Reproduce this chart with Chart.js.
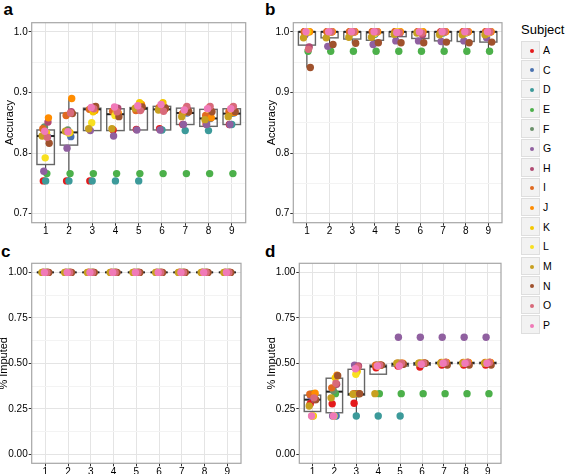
<!DOCTYPE html>
<html>
<head>
<meta charset="utf-8">
<script src="https://cdn.jsdelivr.net/npm/chart.js@4.4.1/dist/chart.umd.min.js"></script>
<style>
  body { margin: 0; background: #fff; width: 567px; height: 474px; position: relative; overflow: hidden;
         font-family: 'Liberation Sans', Arial, sans-serif; color: #000; }
  canvas { position: absolute; }
  .tag { position: absolute; font-weight: bold; font-size: 17px; line-height: 17px; }
  #legend-title { position: absolute; left: 521px; top: 23px; font-size: 13px; line-height: 13px; }
  .key { position: absolute; left: 521px; width: 19px; height: 18.6px; background: #f2f2f2; border: 1px solid #dedede; box-sizing: border-box; }
  .key span { position: absolute; left: 7.5px; top: 7.3px; width: 4px; height: 4px; border-radius: 50%; }
  .klabel { position: absolute; left: 543px; font-size: 10.5px; line-height: 10.5px; }
</style>
</head>
<body>
<div class="tag" style="left:3.5px;top:1px">a</div>
<div class="tag" style="left:265px;top:1px">b</div>
<div class="tag" style="left:1px;top:243px">c</div>
<div class="tag" style="left:265px;top:243px">d</div>
<div id="legend-title">Subject</div>
<div id="legend"></div>

<canvas id="chart-a" width="250" height="240" style="left:0;top:0"></canvas>
<canvas id="chart-b" width="254" height="240" style="left:250px;top:0"></canvas>
<canvas id="chart-c" width="248" height="234" style="left:-4px;top:240px"></canvas>
<canvas id="chart-d" width="254" height="234" style="left:250px;top:240px"></canvas>

<script>
const groups = [1, 2, 3, 4, 5, 6, 7, 8, 9];
const subjects = ['A', 'C', 'D', 'E', 'F', 'G', 'H', 'I', 'J', 'K', 'L', 'M', 'N', 'O', 'P'];
const colors = ['#e41a1c', '#4a72b0', '#3c9a9a', '#4cb04a', '#6a8f6a', '#9060a0', '#b04a72', '#e06a20',
                '#ff8c00', '#f5c800', '#f8e020', '#c8a020', '#a0522d', '#d86a7a', '#f07ab8'];
// horizontal jitter of each subject's point, in category units
const jitter = [-0.1, 0.08, 0.0, 0.05, -0.05, -0.08, 0.1, -0.12, 0.12, 0.04, -0.02, -0.15, 0.15, 0.07, -0.04];

// panel a: accuracy, one row per subject, one value per group
const accuracyA = [
  [0.754, 0.754, 0.754, 0.838, 0.839, 0.840, 0.847, 0.848, 0.847],
  [0.827, 0.827, 0.870, 0.872, 0.874, 0.876, 0.866, 0.857, 0.866],
  [0.754, 0.754, 0.754, 0.754, 0.754, 0.838, 0.837, 0.837, 0.847],
  [0.766, 0.766, 0.766, 0.766, 0.766, 0.766, 0.766, 0.766, 0.766],
  [0.843, 0.838, 0.872, 0.870, 0.873, 0.872, 0.868, 0.856, 0.865],
  [0.770, 0.808, 0.837, 0.828, 0.838, 0.838, 0.847, 0.847, 0.847],
  [0.851, 0.868, 0.876, 0.874, 0.872, 0.876, 0.872, 0.870, 0.870],
  [0.840, 0.862, 0.872, 0.869, 0.870, 0.875, 0.865, 0.862, 0.868],
  [0.858, 0.890, 0.870, 0.866, 0.880, 0.872, 0.868, 0.858, 0.867],
  [0.833, 0.834, 0.868, 0.868, 0.883, 0.883, 0.874, 0.875, 0.875],
  [0.792, 0.833, 0.850, 0.862, 0.876, 0.873, 0.870, 0.872, 0.872],
  [0.828, 0.836, 0.840, 0.840, 0.874, 0.871, 0.860, 0.855, 0.860],
  [0.816, 0.865, 0.877, 0.860, 0.876, 0.874, 0.868, 0.868, 0.868],
  [0.826, 0.866, 0.873, 0.868, 0.870, 0.869, 0.877, 0.877, 0.877],
  [0.836, 0.835, 0.875, 0.876, 0.878, 0.880, 0.871, 0.873, 0.873]
];
// panel b: accuracy
const accuracyB = [
  [1, 1, 1, 1, 1, 1, 1, 1, 1],
  [1, 1, 1, 1, 1, 1, 1, 1, 1],
  [1, 1, 1, 0.996, 1, 1, 0.998, 0.998, 0.998],
  [0.968, 0.968, 0.968, 0.968, 0.968, 0.968, 0.968, 0.968, 0.968],
  [1, 1, 0.998, 1, 1, 1, 1, 1, 1],
  [0.995, 0.976, 1, 0.979, 0.985, 0.985, 0.984, 0.985, 0.990],
  [0.975, 1, 1, 1, 0.998, 0.995, 1, 1, 1],
  [1, 1, 1, 1, 1, 1, 0.998, 1, 1],
  [1, 1, 1, 1, 1, 1, 1, 1, 1],
  [1, 1, 1, 1, 1, 1, 1, 1, 1],
  [1, 1, 1, 0.997, 1, 1, 1, 0.998, 0.998],
  [0.990, 0.990, 0.991, 0.991, 0.996, 0.998, 0.995, 0.995, 0.995],
  [0.941, 0.979, 0.981, 0.982, 0.982, 0.982, 0.983, 0.982, 0.983],
  [0.971, 1, 1, 1, 0.999, 0.998, 1, 1, 1],
  [1, 1, 1, 1, 0.999, 1, 1, 1, 1]
];
// panel c: % imputed
const imputedC = [
  [1, 1, 1, 1, 1, 1, 1, 1, 1], [1, 1, 1, 1, 1, 1, 1, 1, 1], [1, 1, 1, 1, 1, 1, 1, 1, 1],
  [1, 1, 1, 1, 1, 1, 1, 1, 1], [1, 1, 1, 1, 1, 1, 1, 1, 1], [1, 1, 1, 1, 1, 1, 1, 1, 1],
  [1, 1, 1, 1, 1, 1, 1, 1, 1], [1, 1, 1, 1, 1, 1, 1, 1, 1], [1, 1, 1, 1, 1, 1, 1, 1, 1],
  [1, 1, 1, 1, 1, 1, 1, 1, 1], [1, 1, 1, 1, 1, 1, 1, 1, 1], [1, 1, 1, 1, 1, 1, 1, 1, 1],
  [1, 1, 1, 1, 1, 1, 1, 1, 1], [1, 1, 1, 1, 1, 1, 1, 1, 1], [1, 1, 1, 1, 1, 1, 1, 1, 1]
];
// panel d: % imputed
const imputedD = [
  [0.278, 0.277, 0.280, 0.475, 0.485, 0.480, 0.490, 0.490, 0.490],
  [0.330, 0.210, 0.333, 0.490, 0.495, 0.500, 0.505, 0.505, 0.505],
  [0.210, 0.210, 0.210, 0.210, 0.210, 0.495, 0.500, 0.500, 0.500],
  [0.333, 0.333, 0.333, 0.333, 0.333, 0.333, 0.333, 0.333, 0.333],
  [0.330, 0.350, 0.333, 0.490, 0.500, 0.500, 0.500, 0.500, 0.500],
  [0.320, 0.210, 0.490, 0.490, 0.643, 0.643, 0.643, 0.643, 0.643],
  [0.300, 0.385, 0.485, 0.490, 0.495, 0.500, 0.505, 0.505, 0.505],
  [0.330, 0.365, 0.333, 0.490, 0.500, 0.500, 0.505, 0.505, 0.505],
  [0.335, 0.435, 0.333, 0.490, 0.500, 0.500, 0.505, 0.505, 0.505],
  [0.210, 0.420, 0.455, 0.490, 0.500, 0.500, 0.505, 0.505, 0.505],
  [0.210, 0.210, 0.440, 0.485, 0.490, 0.500, 0.505, 0.505, 0.505],
  [0.265, 0.310, 0.330, 0.333, 0.500, 0.500, 0.500, 0.500, 0.500],
  [0.300, 0.432, 0.333, 0.490, 0.495, 0.500, 0.490, 0.490, 0.490],
  [0.310, 0.390, 0.480, 0.490, 0.500, 0.500, 0.505, 0.505, 0.505],
  [0.210, 0.210, 0.470, 0.485, 0.485, 0.495, 0.500, 0.500, 0.500]
];

// box stats per group: [lower whisker, q1, median, q3, upper whisker]
const boxA = [
  [0.768, 0.781, 0.828, 0.838, 0.858], [0.754, 0.813, 0.834, 0.866, 0.890],
  [0.837, 0.837, 0.872, 0.874, 0.877], [0.828, 0.837, 0.864, 0.873, 0.876],
  [0.838, 0.838, 0.873, 0.875, 0.883], [0.838, 0.838, 0.872, 0.877, 0.883],
  [0.837, 0.847, 0.866, 0.874, 0.877], [0.837, 0.844, 0.857, 0.872, 0.877],
  [0.847, 0.847, 0.865, 0.873, 0.877]
];
const boxB = [
  [0.941, 0.978, 1, 1, 1], [0.976, 0.990, 1, 1, 1], [0.981, 0.988, 1, 1, 1],
  [0.979, 0.986, 0.999, 1, 1], [0.982, 0.992, 1, 1, 1], [0.982, 0.989, 1, 1, 1],
  [0.968, 0.985, 1, 1, 1], [0.968, 0.984, 1, 1, 1], [0.968, 0.983, 1, 1, 1]
];
const boxC = [
  [1, 1, 1, 1, 1], [1, 1, 1, 1, 1], [1, 1, 1, 1, 1], [1, 1, 1, 1, 1], [1, 1, 1, 1, 1],
  [1, 1, 1, 1, 1], [1, 1, 1, 1, 1], [1, 1, 1, 1, 1], [1, 1, 1, 1, 1]
];
const boxD = [
  [0.210, 0.235, 0.300, 0.325, 0.335], [0.210, 0.228, 0.344, 0.418, 0.435],
  [0.210, 0.325, 0.330, 0.467, 0.490], [0.440, 0.440, 0.482, 0.490, 0.490],
  [0.483, 0.485, 0.495, 0.500, 0.500], [0.490, 0.490, 0.498, 0.503, 0.503],
  [0.495, 0.498, 0.502, 0.505, 0.505], [0.495, 0.498, 0.502, 0.505, 0.505],
  [0.495, 0.498, 0.502, 0.505, 0.505]
];

const accTicks = [0.7, 0.75, 0.8, 0.85, 0.9, 0.95, 1.0];
const accLabels = [0.7, 0.8, 0.9, 1.0];
const impTicks = [0, 0.125, 0.25, 0.375, 0.5, 0.625, 0.75, 0.875, 1];
const impLabels = [0, 0.25, 0.5, 0.75, 1];

const FONT = "'Liberation Sans', Arial, sans-serif";

function boxPlugin(boxes) {
  return {
    id: 'boxes',
    beforeDatasetsDraw(chart) {
      const { ctx } = chart;
      const xs = chart.scales.x;
      const ys = chart.scales.y;
      ctx.save();
      boxes.forEach((b, i) => {
        const g = groups[i];
        const x = xs.getPixelForValue(g);
        const x0 = xs.getPixelForValue(g - 0.375);
        const x1 = xs.getPixelForValue(g + 0.375);
        const [lo, q1, med, q3, hi] = b.map((v) => ys.getPixelForValue(v));
        ctx.strokeStyle = '#333';
        ctx.lineWidth = 1;
        ctx.beginPath();
        ctx.moveTo(x, lo); ctx.lineTo(x, q1);
        ctx.moveTo(x, q3); ctx.lineTo(x, hi);
        ctx.stroke();
        ctx.strokeStyle = '#666';
        ctx.lineWidth = 1.4;
        ctx.strokeRect(x0, q3, x1 - x0, q1 - q3);
        ctx.strokeStyle = '#222';
        ctx.lineWidth = 2;
        ctx.beginPath();
        ctx.moveTo(x0, med); ctx.lineTo(x1, med);
        ctx.stroke();
      });
      ctx.restore();
    },
    afterDraw(chart) {
      const { ctx, chartArea: a } = chart;
      ctx.save();
      ctx.strokeStyle = '#a6a6a6';
      ctx.lineWidth = 1.2;
      ctx.strokeRect(a.left, a.top, a.right - a.left, a.bottom - a.top);
      ctx.restore();
    }
  };
}

function makePanel(id, rows, boxes, cfg) {
  // Chart.js paints dataset 0 last, so reverse the order to keep P on top
  const datasets = rows.map((row, s) => ({
    label: subjects[s],
    data: row.map((v, g) => ({ x: groups[g] + jitter[s], y: v })),
    backgroundColor: colors[s],
    pointRadius: 3.7,
    pointBorderWidth: 0,
    pointHoverRadius: 3.7,
    order: subjects.length - s
  }));

  return new Chart(document.getElementById(id), {
    type: 'scatter',
    data: { datasets },
    options: {
      responsive: false,
      animation: false,
      events: [],
      layout: { autoPadding: false, padding: { left: 0, top: cfg.top, right: cfg.right, bottom: 0 } },
      plugins: { legend: { display: false }, tooltip: { enabled: false } },
      scales: {
        x: {
          type: 'linear',
          min: 0.4,
          max: 9.6,
          afterBuildTicks: (s) => { s.ticks = groups.map((v) => ({ value: v })); },
          afterFit: (s) => { s.height = cfg.xHeight; },
          ticks: { callback: (v) => String(v), font: { size: 10, family: FONT }, color: '#000', padding: 0, autoSkip: false, maxRotation: 0 },
          grid: { color: '#e4e4e4', tickColor: '#333', tickLength: 3 },
          border: { display: false }
        },
        y: {
          min: cfg.yMin,
          max: cfg.yMax,
          afterBuildTicks: (s) => { s.ticks = cfg.ticks.map((v) => ({ value: v })); },
          afterFit: (s) => { s.width = cfg.yWidth; },
          ticks: {
            callback: (v) => (cfg.labels.includes(v) ? v.toFixed(cfg.digits) : ''),
            font: { size: 10, family: FONT }, color: '#000', padding: 1, autoSkip: false
          },
          grid: {
            color: (c) => (cfg.labels.includes(c.tick.value) ? '#e4e4e4' : '#f3f3f3'),
            tickColor: (c) => (cfg.labels.includes(c.tick.value) ? '#333' : 'rgba(0,0,0,0)'),
            tickLength: 3
          },
          border: { display: false },
          title: {
            display: true, text: cfg.title, color: '#000',
            font: { size: 11, family: FONT }, padding: { top: cfg.titlePad, bottom: 0 }
          }
        }
      }
    },
    plugins: [boxPlugin(boxes)]
  });
}

function buildLegend() {
  const box = document.getElementById('legend');
  subjects.forEach((s, i) => {
    const top = 40.5 + i * 19.64;
    const key = document.createElement('div');
    key.className = 'key';
    key.style.top = top + 'px';
    const dot = document.createElement('span');
    dot.style.background = colors[i];
    key.appendChild(dot);
    box.appendChild(key);
    const lab = document.createElement('div');
    lab.className = 'klabel';
    lab.style.top = (top + 4.5) + 'px';
    lab.textContent = s;
    box.appendChild(lab);
  });
}

buildLegend();

makePanel('chart-a', accuracyA, boxA, {
  top: 22.7, right: 4.3, xHeight: 17.3, yWidth: 31.7, titlePad: 3.4,
  yMin: 0.685, yMax: 1.015, ticks: accTicks, labels: accLabels, digits: 1, title: 'Accuracy'
});
makePanel('chart-b', accuracyB, boxB, {
  top: 22.7, right: 2, xHeight: 17.3, yWidth: 43.3, titlePad: 15.1,
  yMin: 0.685, yMax: 1.015, ticks: accTicks, labels: accLabels, digits: 1, title: 'Accuracy'
});
makePanel('chart-c', imputedC, boxC, {
  top: 23.3, right: 3, xHeight: 10.7, yWidth: 35.7, titlePad: 1.4,
  yMin: -0.05, yMax: 1.05, ticks: impTicks, labels: impLabels, digits: 2, title: '% Imputed'
});
makePanel('chart-d', imputedD, boxD, {
  top: 23.3, right: 3, xHeight: 10.7, yWidth: 49.3, titlePad: 15.1,
  yMin: -0.05, yMax: 1.05, ticks: impTicks, labels: impLabels, digits: 2, title: '% Imputed'
});
</script>
</body>
</html>
